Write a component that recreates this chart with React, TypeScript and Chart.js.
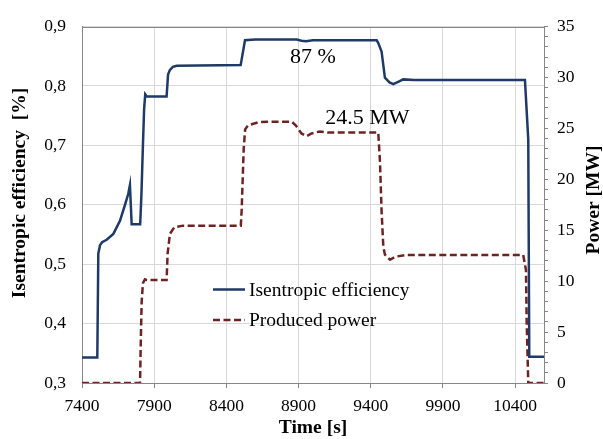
import React, { useEffect, useRef } from "react";
import { Chart, registerables } from "chart.js";

Chart.register(...registerables);

const effTime = [7400, 7506, 7513, 7525, 7539, 7571, 7617, 7663, 7698, 7720, 7732, 7744, 7803, 7812, 7822, 7830, 7838, 7850, 7986, 7996, 8009, 8030, 8056, 8499, 8529, 8600, 8887, 8920, 8951, 9000, 9441, 9452, 9475, 9498, 9530, 9556, 9590, 9625, 9700, 10468, 10491, 10498, 10600];
const effValue = [0.343, 0.343, 0.518, 0.532, 0.537, 0.541, 0.551, 0.573, 0.600, 0.618, 0.633, 0.567, 0.567, 0.62, 0.70, 0.76, 0.786, 0.782, 0.782, 0.819, 0.827, 0.832, 0.834, 0.835, 0.877, 0.878, 0.878, 0.876, 0.875, 0.877, 0.877, 0.872, 0.858, 0.814, 0.806, 0.803, 0.807, 0.811, 0.810, 0.810, 0.710, 0.344, 0.344];

const powTime = [7400, 7802, 7806, 7813, 7822, 7836, 7850, 7986, 7993, 8009, 8040, 8100, 8500, 8506, 8520, 8530, 8550, 8621, 8700, 8852, 8880, 8920, 8956, 8990, 9048, 9100, 9452, 9464, 9475, 9487, 9498, 9533, 9570, 9649, 10456, 10475, 10480, 10491, 10600];
const powValue = [0, 0, 3.2, 7.9, 9.8, 10.18, 10.1, 10.1, 12.7, 14.65, 15.3, 15.45, 15.45, 17, 23, 24.9, 25.3, 25.6, 25.66, 25.66, 25.3, 24.5, 24.23, 24.5, 24.7, 24.6, 24.6, 21.7, 16.9, 13.4, 12.6, 12.1, 12.4, 12.57, 12.57, 11.1, 6, 0, 0];

const xTicks = [7400, 7900, 8400, 8900, 9400, 9900, 10400];
const effTicks = [0.3, 0.4, 0.5, 0.6, 0.7, 0.8, 0.9];
const powTicks = [0, 1, 2, 3, 4, 5, 6, 7, 8, 9, 10, 11, 12, 13, 14, 15, 16, 17, 18, 19, 20, 21, 22, 23, 24, 25, 26, 27, 28, 29, 30, 31, 32, 33, 34, 35];

const seriesNames = ["Isentropic efficiency", "Produced power"];
const annotations = [
  { text: "87 %", x: 9000, y: 0.848, axis: "y" },
  { text: "24.5 MW", x: 9377, y: 26.0, axis: "y1" },
];

const BLUE = "#1F3A66";
const RED = "#6E2323";
const AXIS = "#868686";
const GRID = "#d9d9d9";
const FONT = "'Liberation Serif', 'Times New Roman', serif";

const overlay = {
  id: "overlay",
  afterDraw(chart: any) {
    const ctx = chart.ctx;
    const ca = chart.chartArea;
    ctx.save();
    ctx.strokeStyle = AXIS;
    ctx.lineWidth = 1;
    ctx.beginPath();
    ctx.moveTo(ca.left, Math.round(ca.top) + 0.5);
    ctx.lineTo(ca.right, Math.round(ca.top) + 0.5);
    ctx.stroke();

    ctx.fillStyle = "#000";
    ctx.font = `22px ${FONT}`;
    ctx.textAlign = "center";
    ctx.textBaseline = "middle";
    for (const a of annotations) {
      const px = chart.scales.x.getPixelForValue(a.x);
      const py = chart.scales[a.axis].getPixelForValue(a.y);
      ctx.fillText(a.text, px, py);
    }

    const lx = 213, lw = 32;
    const ly = [289.5, 320];
    ctx.font = `19.5px ${FONT}`;
    ctx.textAlign = "left";
    ctx.lineWidth = 2.5;
    ctx.strokeStyle = BLUE;
    ctx.setLineDash([]);
    ctx.beginPath();
    ctx.moveTo(lx, ly[0]);
    ctx.lineTo(lx + lw, ly[0]);
    ctx.stroke();
    ctx.strokeStyle = RED;
    ctx.setLineDash([7, 3.5]);
    ctx.beginPath();
    ctx.moveTo(lx, ly[1]);
    ctx.lineTo(lx + lw, ly[1]);
    ctx.stroke();
    ctx.setLineDash([]);
    ctx.fillText(seriesNames[0], lx + 36, ly[0] + 1);
    ctx.fillText(seriesNames[1], lx + 36, ly[1] + 1);

    ctx.font = `bold 19.5px ${FONT}`;
    ctx.textAlign = "center";
    ctx.fillText("Time [s]", (ca.left + ca.right) / 2, 428);
    ctx.save();
    ctx.translate(20, 193);
    ctx.rotate(-Math.PI / 2);
    ctx.fillText("Isentropic efficiency  [%]", 0, 0);
    ctx.restore();
    ctx.save();
    ctx.translate(594, 200);
    ctx.rotate(-Math.PI / 2);
    ctx.fillText("Power [MW]", 0, 0);
    ctx.restore();
    ctx.restore();
  },
};

export default function App() {
  const ref = useRef<HTMLCanvasElement>(null);
  useEffect(() => {
    if (!ref.current) return;
    const effData = effTime.map((t, i) => ({ x: t, y: effValue[i] }));
    const powData = powTime.map((t, i) => ({ x: t, y: powValue[i] }));
    const tickFont = { family: FONT, size: 17.5 };
    const chart = new Chart(ref.current, {
      type: "line",
      data: {
        datasets: [
          {
            label: seriesNames[0],
            data: effData,
            yAxisID: "y",
            borderColor: BLUE,
            borderWidth: 2.5,
            pointRadius: 0,
            fill: false,
            tension: 0,
          },
          {
            label: seriesNames[1],
            data: powData,
            yAxisID: "y1",
            borderColor: RED,
            borderWidth: 2.5,
            borderDash: [7, 3.5],
            pointRadius: 0,
            fill: false,
            tension: 0,
          },
        ],
      },
      options: {
        responsive: false,
        animation: false,
        layout: { padding: { top: 17, left: 0, right: 0, bottom: 0 } },
        plugins: { legend: { display: false }, tooltip: { enabled: false } },
        scales: {
          x: {
            type: "linear",
            min: 7400,
            max: 10600,
            afterBuildTicks: (s: any) => {
              s.ticks = xTicks.map((v) => ({ value: v }));
            },
            afterFit: (s: any) => {
              s.height = 56;
            },
            grid: { color: GRID, tickColor: AXIS, tickLength: 5, lineWidth: 1 },
            border: { color: AXIS, width: 1 },
            ticks: {
              font: tickFont,
              color: "#000",
              padding: 8,
              maxRotation: 0,
              autoSkip: false,
              callback: (v: any) => String(v),
            },
          },
          y: {
            type: "linear",
            position: "left",
            min: 0.3,
            max: 0.9,
            afterBuildTicks: (s: any) => {
              s.ticks = effTicks.map((v) => ({ value: v }));
            },
            afterFit: (s: any) => {
              s.width = 82;
            },
            grid: { color: GRID, drawTicks: false },
            border: { color: AXIS, width: 1 },
            ticks: {
              font: tickFont,
              color: "#000",
              padding: 16,
              callback: (v: any) => Number(v).toFixed(1).replace(".", ","),
            },
          },
          y1: {
            type: "linear",
            position: "right",
            min: 0,
            max: 35,
            afterBuildTicks: (s: any) => {
              s.ticks = powTicks.map((v) => ({ value: v }));
            },
            afterFit: (s: any) => {
              s.width = 59;
            },
            grid: { drawOnChartArea: false, color: AXIS, tickLength: 4 },
            border: { color: AXIS, width: 1 },
            ticks: {
              font: tickFont,
              color: "#000",
              padding: 9,
              autoSkip: false,
              callback: (v: any) => (Number(v) % 5 === 0 ? String(v) : ""),
            },
          },
        },
      },
      plugins: [overlay],
    });
    return () => chart.destroy();
  }, []);
  return (
    <div style={{ position: "absolute", left: 0, top: 0, width: 603, height: 439, background: "#fff" }}>
      <canvas ref={ref} width={603} height={439} style={{ display: "block" }} />
    </div>
  );
}
